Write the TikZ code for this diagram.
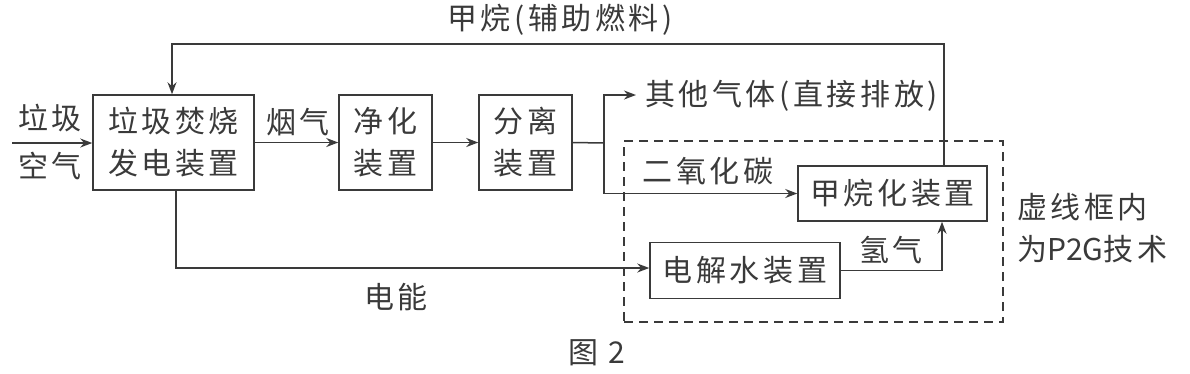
\documentclass[tikz,border=0pt]{standalone}
\usepackage{fontspec}
\newfontfamily\cjk[LetterSpace=12]{Noto Sans CJK SC}
\newfontfamily\cjkplain{Noto Sans CJK SC}
\usetikzlibrary{arrows.meta}
\definecolor{ink}{HTML}{3A3A3A}
\tikzset{
  every node/.style={font=\cjk\fontsize{30}{42}\selectfont, text=ink},
  dev/.style={draw=ink, line width=1.5pt, rectangle, inner sep=0pt, align=center},
  conn/.style={draw=ink, line width=1.5pt},
  arr/.style={conn, -{Stealth[length=12pt,width=9pt]}},
  lbl/.style={inner sep=0pt},
  dashbox/.style={draw=ink, line width=1.4pt, dash pattern=on 9pt off 6pt, rectangle, inner sep=0pt}
}
\begin{document}
\begin{tikzpicture}[x=1pt,y=-1pt]
\useasboundingbox (0,0) rectangle (1190,373);
% dashed frame
\node[dashbox, minimum width=379pt, minimum height=181pt] (frame) at (813.5,231.5) {};
% devices
\node[dev, minimum width=161pt, minimum height=95pt] (b1) at (173.5,142.5) {垃圾焚烧\\发电装置};
\node[dev, minimum width=93pt, minimum height=95pt] (b2) at (385.5,142.5) {净化\\装置};
\node[dev, minimum width=93pt, minimum height=95pt] (b3) at (525.5,142.5) {分离\\装置};
\node[dev, minimum width=189pt, minimum height=55pt] (b4) at (892.5,193.5) {甲烷化装置};
\node[dev, minimum width=190pt, minimum height=56pt] (b5) at (745,270.5) {电解水装置};
% coordinates
\coordinate (in) at (12,143);
\coordinate (split) at (604,143);
\coordinate (other) at (636,95);
\coordinate (topR) at (944,44);
\coordinate (topL) at (172,44);
\coordinate (elec) at (176,268);
\coordinate (h2) at (942,270.5);
% connectors
\draw[arr] (in) -- (b1.west |- in);
\draw[arr] (b1.east) -- (b2.west);
\draw[arr] (b2.east) -- (b3.west);
\draw[conn] (b3.east) -- (split);
\draw[arr] (split) |- (other);
\draw[arr] (split) |- (b4.west);
\draw[arr] (b4.north -| topR) -- (topR) -- (topL) -- (b1.north -| topL);
\draw[arr] (b1.south -| elec) -- (elec) -- (b5.west |- elec);
\draw[arr] (b5.east) -| (b4.south -| h2);
% labels
\node[lbl] (l1) at (50,118) {垃圾};
\node[lbl] (l2) at (50,166) {空气};
\node[lbl] (l3) at (298,122) {烟气};
\node[lbl] (l4) at (560,20) {甲烷(辅助燃料)};
\node[lbl, anchor=west] (l5) at (645,96) {其他气体(直接排放)};
\node[lbl] (l6) at (708,171) {二氧化碳};
\node[lbl] (l7) at (891,250) {氢气};
\node[lbl] (l8) at (396,297) {电能};
\node[lbl, anchor=west, align=left] (l9) at (1017,228) {虚线框内\\为{\cjkplain P2G}技术};
\node[lbl] (l10) at (597,353) {图 2};
\end{tikzpicture}
\end{document}
